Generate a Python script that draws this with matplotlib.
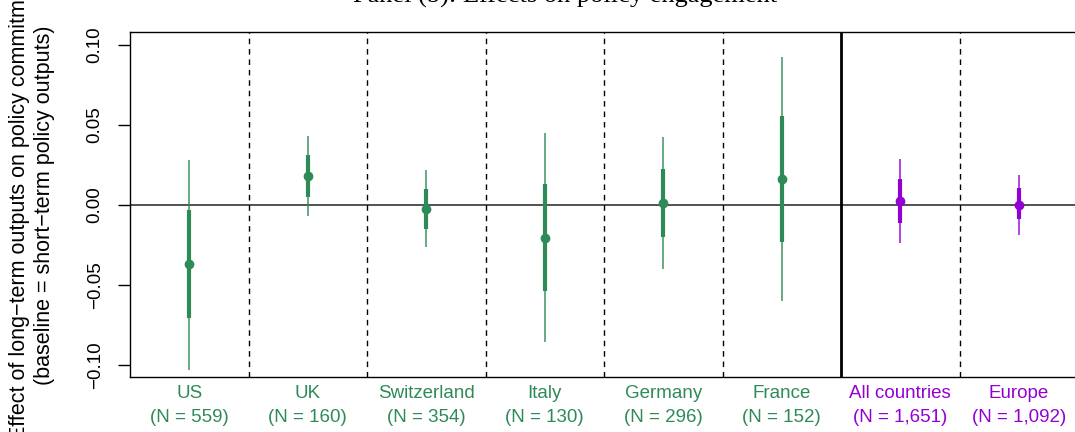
import numpy as np
import matplotlib
matplotlib.use("Agg")
import matplotlib.pyplot as plt

plt.rcParams['font.family'] = ['Liberation Sans', 'DejaVu Sans']

# --- data ---
groups  = ["US", "UK", "Switzerland", "Italy", "Germany", "France", "All countries", "Europe"]
n_obs   = ["559", "160", "354", "130", "296", "152", "1,651", "1,092"]
est     = [-0.037, 0.018, -0.0023, -0.0204, 0.0015, 0.016, 0.0025, 0.000]
ci90_lo = [-0.0705, 0.005, -0.015, -0.0535, -0.0198, -0.023, -0.011, -0.009]
ci90_hi = [-0.003, 0.031, 0.010, 0.013, 0.0225, 0.0556, 0.016, 0.0106]
ci95_lo = [-0.103, -0.007, -0.026, -0.0854, -0.0398, -0.060, -0.024, -0.019]
ci95_hi = [0.028, 0.043, 0.022, 0.045, 0.0425, 0.0925, 0.029, 0.019]

green  = "#2E8B57"
purple = "#9400D3"
colors = [green] * 6 + [purple] * 2

W, H = 1075, 432
fig = plt.figure(figsize=(W / 100, H / 100), dpi=100)
# axes: left 130px, top 32px, bottom 377px, right runs off the canvas
ax = fig.add_axes([130 / W, (H - 377) / H, 948 / W, (377 - 32) / H])

x = np.arange(1, len(groups) + 1)

ax.axhline(0, color="#444444", lw=1.3, zorder=1)
for b in [1.5, 2.5, 3.5, 4.5, 5.5, 7.5]:
    ax.axvline(b, color="black", lw=1.0, ls=(0, (4, 3.5)), zorder=1)
ax.axvline(6.5, color="black", lw=2.0, zorder=1)

for i in range(len(groups)):
    c = colors[i]
    ax.plot([x[i], x[i]], [ci95_lo[i], ci95_hi[i]], color=c, lw=1.2, alpha=0.85,
            solid_capstyle="butt", zorder=2)
    ax.plot([x[i], x[i]], [ci90_lo[i], ci90_hi[i]], color=c, lw=3.0,
            solid_capstyle="butt", zorder=3)
    ax.plot(x[i], est[i], "o", color=c, ms=6, zorder=4)

ax.set_xlim(0.5, 8.5)
ax.set_ylim(-0.1075, 0.108125)
ax.set_yticks([-0.10, -0.05, 0.0, 0.05, 0.10])
ax.set_yticklabels(["\u22120.10", "\u22120.05", "0.00", "0.05", "0.10"],
                   rotation=90, va="center", fontsize=13.5)
ax.tick_params(axis="y", length=9, width=1, pad=10)

ax.set_xticks(x)
ax.set_xticklabels([g + "\n(N = " + n + ")" for g, n in zip(groups, n_obs)],
                   fontsize=13.5, linespacing=1.5)
for lab, c in zip(ax.get_xticklabels(), colors):
    lab.set_color(c)
ax.tick_params(axis="x", length=0, pad=6)

for s in ["left", "top", "bottom"]:
    ax.spines[s].set_linewidth(1.0)
ax.spines["right"].set_visible(False)

fig.text(565 / W, (H - 3) / H, "Panel (b): Effects on policy engagement",
         family="Liberation Serif", fontsize=19, ha="center", va="baseline")

fig.text(32 / W, (H - 205) / H,
         "Effect of long\u2212term outputs on policy commitment\n(baseline = short\u2212term policy outputs)",
         rotation=90, ha="center", va="center", fontsize=15.5, linespacing=1.3,
         multialignment="center")

fig.savefig("out.png", dpi=100)
